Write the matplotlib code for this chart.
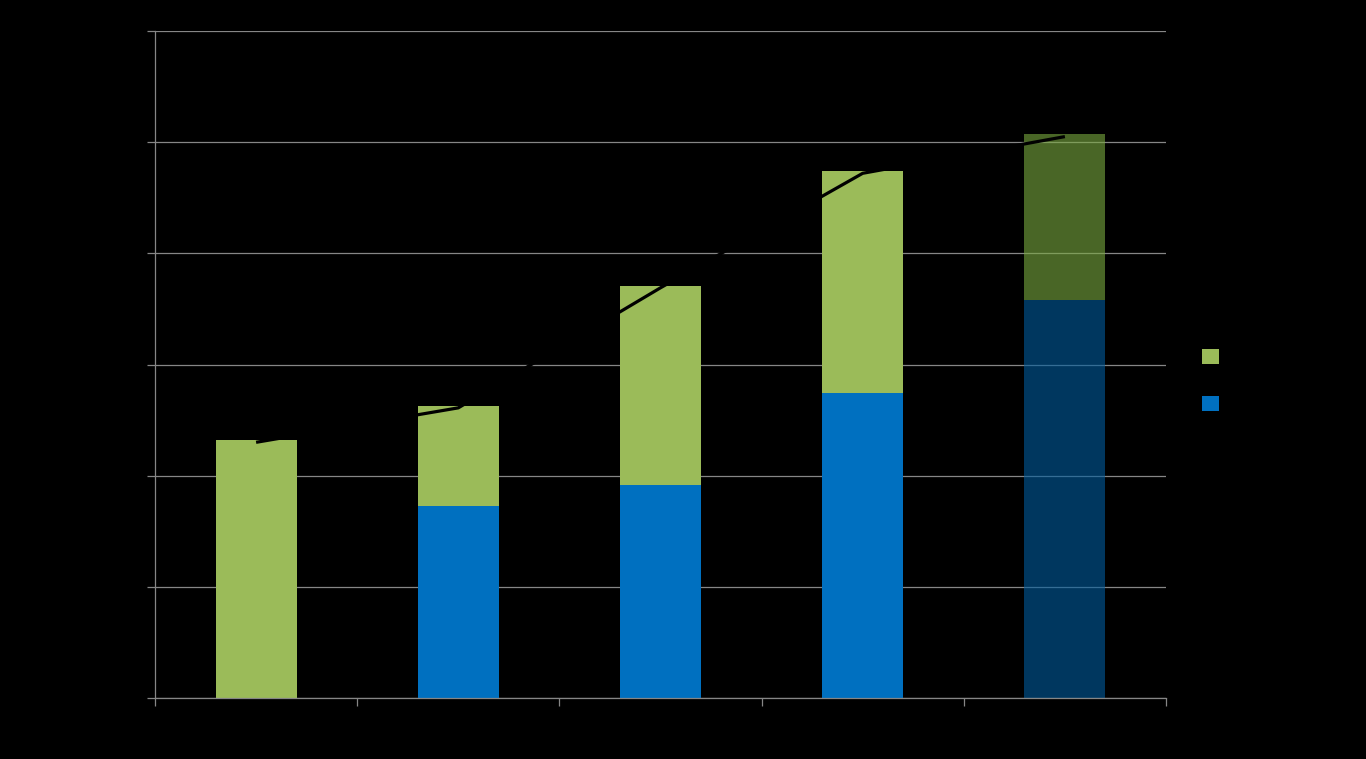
import matplotlib
matplotlib.use("Agg")
import matplotlib.pyplot as plt
from matplotlib.patches import Patch
import numpy as np

categories = ["1", "2", "3", "4", "5"]
blue_values = [0.0, 17.3, 19.2, 27.4, 35.8]
green_values = [23.2, 9.0, 17.9, 20.0, 14.9]
line_values = [23.0, 26.1, 36.9, 47.2, 50.5]
legend_labels = ["Series green", "Series blue"]

green_col = "#9bbb59"
blue_col = "#0070c0"
green_last = "#7bac41"
blue_last = "#005da0"
grid_col = "#868686"

fig = plt.figure(figsize=(13.66, 7.59), dpi=100, facecolor="black")
ax = fig.add_axes([155 / 1366, 61 / 759, (1166 - 155) / 1366, (698 - 31) / 759])
ax.set_facecolor("black")

x = np.arange(len(categories))
n = len(categories)
for i in range(n):
    last = i == n - 1
    bc = blue_last if last else blue_col
    gc = green_last if last else green_col
    a = 0.6 if last else 1.0
    ax.bar(x[i], blue_values[i], width=0.4, color=bc, alpha=a, zorder=2, linewidth=0)
    ax.bar(x[i], green_values[i], width=0.4, bottom=blue_values[i], color=gc,
           alpha=a, zorder=2, linewidth=0)

ax.plot(x, line_values, color="black", linewidth=2.3, zorder=3,
        solid_capstyle="butt", solid_joinstyle="round")

ax.set_xlim(-0.5, n - 0.5)
ax.set_ylim(0, 60)
ax.set_yticks(np.arange(0, 61, 10))
ax.set_xticks(np.arange(-0.5, n, 1.0))
ax.set_yticklabels([])
ax.set_xticklabels([])
ax.grid(axis="y", color=grid_col, linewidth=0.9)
ax.set_axisbelow(True)
ax.tick_params(axis="both", colors=grid_col, length=6, width=0.9, direction="out")
for s in ["top", "right"]:
    ax.spines[s].set_visible(False)
for s in ["left", "bottom"]:
    ax.spines[s].set_color(grid_col)
    ax.spines[s].set_linewidth(0.9)

handles = [Patch(facecolor=green_col, edgecolor="none"),
           Patch(facecolor=blue_col, edgecolor="none")]
leg = fig.legend(handles, legend_labels, loc="upper left",
                 bbox_to_anchor=(1202 / 1366, 1 - 348 / 759),
                 frameon=False, fontsize=12.2, handlelength=1.0, handleheight=1.0,
                 labelspacing=1.75, borderpad=0, borderaxespad=0, handletextpad=0.6,
                 labelcolor="black")

fig.savefig("out.png", dpi=100, facecolor="black")
